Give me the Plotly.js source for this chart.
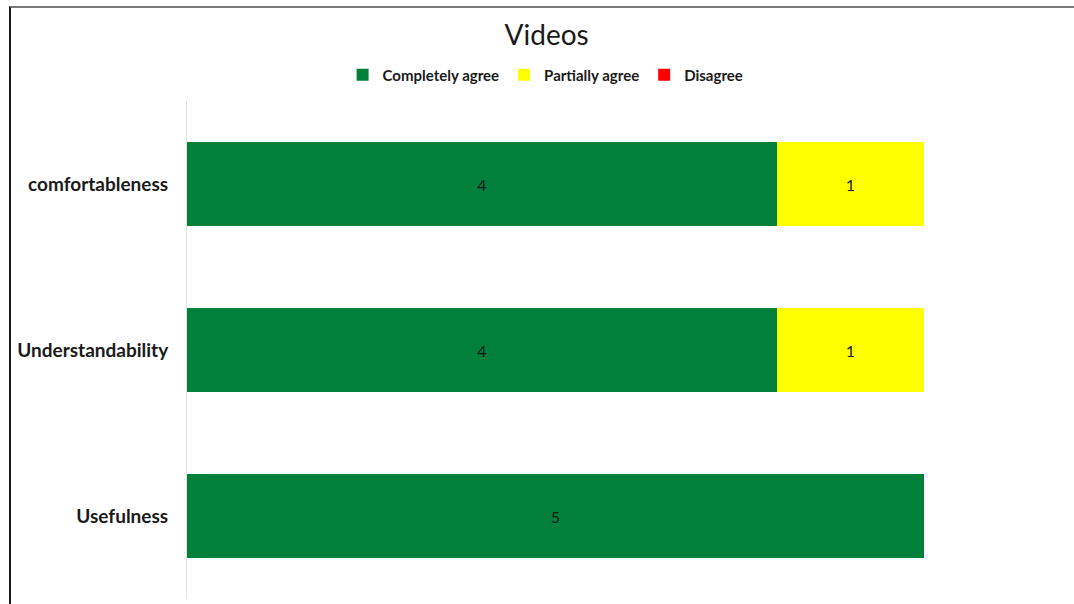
<!DOCTYPE html>
<html>
<head>
<meta charset="utf-8">
<script src="https://cdn.plot.ly/plotly-3.0.1.min.js"></script>
<style>
  html, body { margin: 0; padding: 0; background: #ffffff; }
  #wrap { position: relative; width: 1074px; height: 604px; overflow: hidden; }
  #chart { position: absolute; left: 0; top: 0; width: 1074px; height: 604px; }
  #frame { position: absolute; left: 9px; top: 6px; width: 1200px; height: 700px;
           border-left: 2px solid #1a1a1a; border-top: 2px solid #7a7a7a; pointer-events: none; }
</style>
</head>
<body>
<div id="wrap">
  <div id="chart"></div>
  <div id="frame"></div>
</div>
<script>
const categories = ['Usefulness', 'Understandability', 'comfortableness'];
const completelyAgree = [5, 4, 4];
const partiallyAgree = [0, 1, 1];
const disagree = [0, 0, 0];
const seriesNames = ['Completely agree', 'Partially agree', 'Disagree'];
const seriesColors = ['#00803A', '#FFFF00', '#FF0000'];
const chartTitle = 'Videos';

const FONT = 'Lato, "Open Sans", sans-serif';
const seriesValues = [completelyAgree, partiallyAgree, disagree];

const traces = seriesValues.map((vals, i) => ({
  type: 'bar',
  orientation: 'h',
  name: seriesNames[i],
  y: categories,
  x: vals,
  marker: { color: seriesColors[i], line: { width: 0 } },
  text: vals.map(v => (v ? String(v) : '')),
  textposition: 'inside',
  insidetextanchor: 'middle',
  textangle: 0,
  textfont: { family: FONT, size: 16, color: '#1a1a1a' },
  hoverinfo: 'x+y+name'
}));

const layout = {
  width: 1074,
  height: 604,
  barmode: 'stack',
  bargap: 0.494,
  paper_bgcolor: '#ffffff',
  plot_bgcolor: '#ffffff',
  margin: { l: 187, r: 150, t: 101, b: 5, pad: 0 },
  title: {
    text: chartTitle,
    font: { family: FONT, size: 28, color: '#1a1a1a' },
    x: 0.509, xref: 'container', xanchor: 'center',
    y: 0.942, yref: 'container', yanchor: 'middle'
  },
  showlegend: true,
  legend: {
    orientation: 'h',
    x: 0.508, xref: 'container', xanchor: 'center',
    y: 0.876, yref: 'container', yanchor: 'middle',
    font: { family: FONT, size: 15, color: '#1a1a1a', weight: 'bold' },
    traceorder: 'normal',
    itemwidth: 30,
    tracegroupgap: 0
  },
  xaxis: {
    range: [0, 5],
    showgrid: false,
    zeroline: false,
    showticklabels: false,
    showline: false,
    ticks: '',
    fixedrange: true
  },
  yaxis: {
    type: 'category',
    categoryorder: 'array',
    categoryarray: categories,
    showgrid: false,
    zeroline: false,
    showline: true,
    linecolor: '#e3e3e3',
    linewidth: 1,
    ticks: '',
    ticklabelstandoff: 14,
    tickfont: { family: FONT, size: 19, color: '#1a1a1a', weight: 'bold' },
    fixedrange: true
  }
};

Plotly.newPlot('chart', traces, layout, { displayModeBar: false, staticPlot: true });
</script>
</body>
</html>
